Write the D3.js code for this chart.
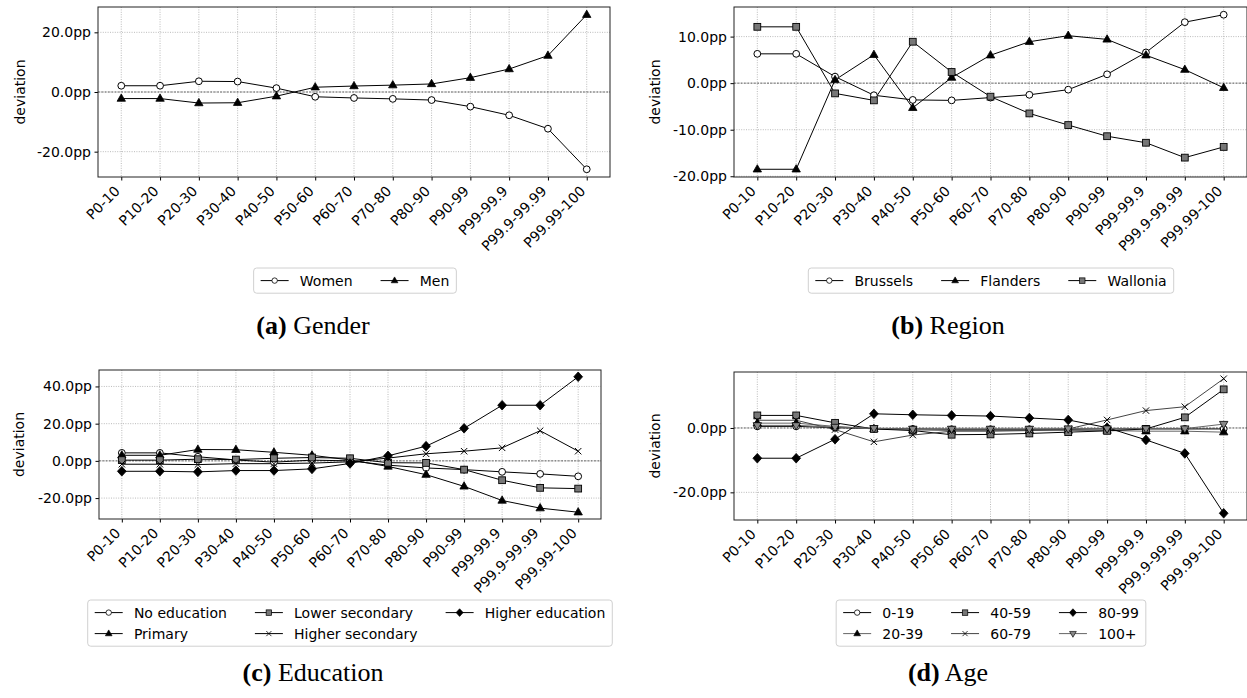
<!DOCTYPE html>
<html>
<head>
<meta charset="utf-8">
<script src="https://cdn.jsdelivr.net/npm/d3@7"></script>
<style>
body { margin: 0; background: #fff; }
svg text { font-family: "DejaVu Sans", sans-serif; fill: #000; }
.caption { font-family: "Liberation Serif", serif; font-size: 26px; }
</style>
</head>
<body>
<script>
// Income groups on the x axis
const categories = ["P0-10", "P10-20", "P20-30", "P30-40", "P40-50", "P50-60", "P60-70",
    "P70-80", "P80-90", "P90-99", "P99-99.9", "P99.9-99.99", "P99.99-100"];

// (a) Gender
const women = [2.1, 2.1, 3.6, 3.5, 1.3, -1.6, -2.0, -2.3, -2.7, -4.9, -7.8, -12.3, -25.9];
const men = [-2.2, -2.2, -3.7, -3.6, -1.4, 1.6, 2.0, 2.3, 2.7, 4.8, 7.7, 12.2, 25.9];

// (b) Region
const brussels = [6.3, 6.3, 1.4, -2.6, -3.6, -3.7, -3.1, -2.5, -1.4, 1.9, 6.6, 13.1, 14.7];
const flanders = [-18.5, -18.5, 0.7, 6.1, -5.3, 1.2, 6.0, 8.9, 10.2, 9.4, 6.0, 2.9, -1.0];
const wallonia = [12.1, 12.1, -2.2, -3.7, 8.9, 2.4, -2.9, -6.5, -9.0, -11.4, -12.8, -16.0, -13.7];

// (c) Education
const noEducation = [4.3, 4.3, 2.2, 0.5, -0.7, 0.4, 0.0, -2.3, -3.8, -4.7, -5.9, -7.0, -8.3];
const primary = [3.0, 3.0, 6.1, 6.0, 4.6, 3.0, 0.5, -3.0, -7.4, -13.7, -21.3, -25.4, -27.6];
const lowerSecondary = [0.4, 0.4, 0.9, 0.7, 1.4, 1.8, 1.4, -1.0, -1.1, -4.7, -10.4, -14.5, -14.9];
const higherSecondary = [-1.8, -1.8, -2.0, -1.5, -1.5, -1.2, -0.5, 1.5, 3.8, 5.2, 7.0, 16.2, 5.2];
const higherEducation = [-5.6, -5.6, -5.9, -5.2, -5.2, -4.3, -1.4, 2.7, 7.9, 17.5, 29.9, 29.9, 45.2];

// (d) Age
const age0 = [0.5, 0.5, 0.1, -0.2, -0.3, -0.4, -0.4, -0.4, -0.4, -0.3, -0.3, -0.3, -0.3];
const age20 = [1.5, 1.5, 0.5, -0.3, -0.6, -0.8, -0.8, -0.8, -0.8, -0.8, -1.0, -1.0, -1.3];
const age40 = [3.9, 3.9, 1.6, -0.3, -0.8, -2.1, -2.0, -1.7, -1.3, -0.9, -0.3, 3.3, 12.0];
const age60 = [2.4, 2.4, -0.5, -4.3, -2.2, -1.0, -1.0, -0.8, -0.3, 2.5, 5.4, 6.6, 15.3];
const age80 = [-9.4, -9.4, -3.5, 4.4, 4.1, 3.9, 3.7, 3.1, 2.5, 0.1, -3.7, -7.9, -26.5];
const age100 = [0.8, 0.8, 0.3, -0.1, -0.3, -0.3, -0.3, -0.3, -0.2, -0.2, -0.2, -0.2, 1.2];

// y tick values per panel
const ticksA = [-20, 0, 20];
const ticksB = [-20, -10, 0, 10];
const ticksC = [-20, 0, 20, 40];
const ticksD = [-20, 0];

const W = 1247, H = 698;
const svg = d3.select("body").append("svg")
    .attr("width", W)
    .attr("height", H);

// marker shapes, drawn around (0,0)
function drawMarker(g, type) {
    if (type === "circle") {
        g.append("circle").attr("r", 3.4).attr("fill", "#fff").attr("stroke", "#000").attr("stroke-width", 1);
    } else if (type === "triangle") {
        g.append("path").attr("d", "M0,-4.6L4.2,2.7L-4.2,2.7Z").attr("fill", "#000").attr("stroke", "#000").attr("stroke-width", 0.8);
    } else if (type === "triangleDown") {
        g.append("path").attr("d", "M0,4.6L4.2,-2.7L-4.2,-2.7Z").attr("fill", "#888").attr("stroke", "#000").attr("stroke-width", 0.8);
    } else if (type === "square") {
        g.append("rect").attr("x", -3.4).attr("y", -3.4).attr("width", 6.8).attr("height", 6.8)
            .attr("fill", "#777").attr("stroke", "#000").attr("stroke-width", 0.9);
    } else if (type === "diamond") {
        g.append("path").attr("d", "M0,-4.8L4.4,0L0,4.8L-4.4,0Z").attr("fill", "#000").attr("stroke", "#000").attr("stroke-width", 0.8);
    } else if (type === "x") {
        g.append("path").attr("d", "M-3.2,-3.2L3.2,3.2M-3.2,3.2L3.2,-3.2").attr("fill", "none").attr("stroke", "#000").attr("stroke-width", 1);
    }
}

let panels = [
    {
        letter: "a", title: "Gender", ticks: ticksA,
        left: 98, right: 610, top: 7, bottom: 177, ylabX: 20,
        legendX: 355, legendY: 268, ncol: 2, capX: 313, capY: 334,
        series: [
            { name: "Women", values: women, marker: "circle", color: "#000" },
            { name: "Men", values: men, marker: "triangle", color: "#000" }
        ]
    },
    {
        letter: "b", title: "Region", ticks: ticksB,
        left: 734, right: 1247, top: 7, bottom: 177, ylabX: 655,
        legendX: 991, legendY: 268, ncol: 3, capX: 948, capY: 334,
        series: [
            { name: "Brussels", values: brussels, marker: "circle", color: "#000" },
            { name: "Flanders", values: flanders, marker: "triangle", color: "#000" },
            { name: "Wallonia", values: wallonia, marker: "square", color: "#000" }
        ]
    },
    {
        letter: "c", title: "Education", ticks: ticksC,
        left: 99, right: 601, top: 370, bottom: 519, ylabX: 19,
        legendX: 350, legendY: 600, ncol: 3, capX: 313, capY: 681,
        series: [
            { name: "No education", values: noEducation, marker: "circle", color: "#000" },
            { name: "Primary", values: primary, marker: "triangle", color: "#000" },
            { name: "Lower secondary", values: lowerSecondary, marker: "square", color: "#000" },
            { name: "Higher secondary", values: higherSecondary, marker: "x", color: "#000" },
            { name: "Higher education", values: higherEducation, marker: "diamond", color: "#000" }
        ]
    },
    {
        letter: "d", title: "Age", ticks: ticksD,
        left: 734, right: 1247, top: 372, bottom: 520, ylabX: 655,
        legendX: 991, legendY: 600, ncol: 3, capX: 948, capY: 681,
        series: [
            { name: "0-19", values: age0, marker: "circle", color: "#000" },
            { name: "20-39", values: age20, marker: "triangle", color: "#666" },
            { name: "40-59", values: age40, marker: "square", color: "#000" },
            { name: "60-79", values: age60, marker: "x", color: "#444" },
            { name: "80-99", values: age80, marker: "diamond", color: "#000" },
            { name: "100+", values: age100, marker: "triangleDown", color: "#666" }
        ]
    }
];

const fontPx = 14;

panels.forEach(function (p) {
    let g = svg.append("g");

    let x = d3.scaleLinear()
        .domain([-0.6, categories.length - 1 + 0.6])
        .range([p.left, p.right]);

    let allVals = [];
    p.series.forEach(s => allVals = allVals.concat(s.values));
    let lo = d3.min(allVals), hi = d3.max(allVals);
    let pad = (hi - lo) * 0.05;
    let y = d3.scaleLinear()
        .domain([lo - pad, hi + pad])
        .range([p.bottom, p.top]);

    // grid
    g.selectAll(".vgrid")
        .data(categories)
        .enter().append("line")
        .attr("x1", (d, i) => x(i)).attr("x2", (d, i) => x(i))
        .attr("y1", p.top).attr("y2", p.bottom)
        .attr("stroke", "#aaa").attr("stroke-width", 0.8)
        .attr("stroke-dasharray", "1,1.4");
    g.selectAll(".hgrid")
        .data(p.ticks)
        .enter().append("line")
        .attr("x1", p.left).attr("x2", p.right)
        .attr("y1", d => y(d)).attr("y2", d => y(d))
        .attr("stroke", "#aaa").attr("stroke-width", 0.8)
        .attr("stroke-dasharray", "1,1.4");

    // zero reference
    g.append("line")
        .attr("x1", p.left).attr("x2", p.right)
        .attr("y1", y(0)).attr("y2", y(0))
        .attr("stroke", "#444").attr("stroke-width", 0.8)
        .attr("stroke-dasharray", "2,1.3");

    // axes
    let yAxis = d3.axisLeft(y)
        .tickValues(p.ticks)
        .tickSize(3.5)
        .tickPadding(3.5)
        .tickFormat(d => d.toFixed(1) + "pp");
    let ya = g.append("g")
        .attr("transform", "translate(" + p.left + ",0)")
        .call(yAxis);
    ya.select(".domain").remove();
    ya.selectAll("text").style("font-size", fontPx + "px").style("font-family", "DejaVu Sans");

    let xAxis = d3.axisBottom(x)
        .tickValues(d3.range(categories.length))
        .tickSize(3.5)
        .tickFormat(i => categories[i]);
    let xa = g.append("g")
        .attr("transform", "translate(0," + p.bottom + ")")
        .call(xAxis);
    xa.select(".domain").remove();
    xa.selectAll("text")
        .style("font-size", fontPx + "px")
        .style("font-family", "DejaVu Sans")
        .attr("text-anchor", "end")
        .attr("dy", null)
        .attr("y", 0)
        .attr("transform", "translate(-1,15) rotate(-45)");

    // frame
    g.append("rect")
        .attr("x", p.left).attr("y", p.top)
        .attr("width", p.right - p.left).attr("height", p.bottom - p.top)
        .attr("fill", "none").attr("stroke", "#222").attr("stroke-width", 1);

    g.append("text")
        .attr("transform", "translate(" + p.ylabX + "," + ((p.top + p.bottom) / 2) + ") rotate(-90)")
        .attr("dy", "0.35em")
        .style("text-anchor", "middle")
        .style("font-size", fontPx + "px")
        .text("deviation");

    // series
    let line = d3.line()
        .x((d, i) => x(i))
        .y(d => y(d));
    p.series.forEach(function (s) {
        g.append("path")
            .datum(s.values)
            .attr("d", line)
            .attr("fill", "none")
            .attr("stroke", s.color)
            .attr("stroke-width", 1);
    });
    p.series.forEach(function (s) {
        g.selectAll(null)
            .data(s.values)
            .enter().append("g")
            .attr("transform", (d, i) => "translate(" + x(i) + "," + y(d) + ")")
            .each(function () { drawMarker(d3.select(this), s.marker); });
    });

    // legend (column-first like matplotlib)
    let fs = fontPx;
    let lg = g.append("g");
    let box = lg.append("rect");
    let nrow = Math.ceil(p.series.length / p.ncol);
    let rowH = fs * 1.5;
    let colX = 0;
    let items = lg.append("g");
    for (let c = 0; c < p.ncol; c++) {
        let maxW = 0;
        for (let r = 0; r < nrow; r++) {
            let k = c * nrow + r;
            if (k >= p.series.length) break;
            let s = p.series[k];
            let it = items.append("g").attr("transform", "translate(" + colX + "," + (r * rowH) + ")");
            it.append("line").attr("x1", 0).attr("x2", fs * 2).attr("y1", 0).attr("y2", 0)
                .attr("stroke", s.color).attr("stroke-width", 1);
            let mk = it.append("g").attr("transform", "translate(" + fs + ",0) scale(0.8)");
            drawMarker(mk, s.marker);
            let t = it.append("text").attr("x", fs * 2.8).attr("dy", "0.35em")
                .style("font-size", fs + "px").text(s.name);
            maxW = Math.max(maxW, fs * 2.8 + t.node().getComputedTextLength());
        }
        colX += maxW + (c < p.ncol - 1 ? fs * 2 : 0);
    }
    let padX = fs * 0.5;
    let bw = colX + padX * 2;
    let bh = nrow * rowH + fs * 0.3;
    let bx = p.legendX - bw / 2;
    box.attr("x", bx).attr("y", p.legendY).attr("width", bw).attr("height", bh)
        .attr("rx", 3).attr("fill", "#fff").attr("stroke", "#d0d0d0").attr("stroke-width", 1);
    items.attr("transform", "translate(" + (bx + padX) + "," + (p.legendY + fs * 0.15 + rowH / 2) + ")");

    // caption
    let cap = g.append("text")
        .attr("class", "caption")
        .attr("x", p.capX).attr("y", p.capY)
        .style("text-anchor", "middle");
    cap.append("tspan").style("font-weight", "bold").text("(" + p.letter + ")");
    cap.append("tspan").text(" " + p.title);
});
</script>
</body>
</html>
